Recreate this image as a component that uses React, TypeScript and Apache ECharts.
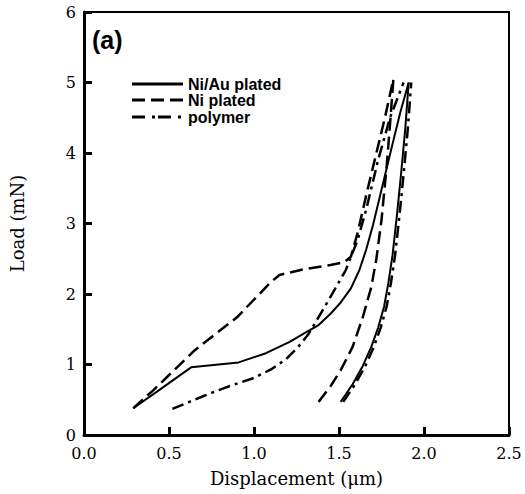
import React, { useEffect, useRef } from "react";
import * as echarts from "echarts";

// Ni/Au plated (solid)
const niAuLoading: [number, number][] = [
  [0.29, 0.38], [0.45, 0.65], [0.63, 0.96], [0.91, 1.03], [1.07, 1.16], [1.21, 1.32],
  [1.3, 1.45], [1.38, 1.56], [1.45, 1.72], [1.51, 1.88], [1.57, 2.08], [1.62, 2.34],
  [1.66, 2.63], [1.7, 2.98], [1.75, 3.48], [1.81, 4.08], [1.86, 4.57], [1.91, 5.0],
];
const niAuUnloading: [number, number][] = [
  [1.51, 0.47], [1.58, 0.72], [1.64, 0.98], [1.69, 1.25], [1.73, 1.52], [1.765, 1.82],
  [1.79, 2.15], [1.815, 2.55], [1.84, 3.1], [1.865, 3.7], [1.89, 4.35], [1.91, 5.0],
];
// Ni plated (dashed)
const niLoading: [number, number][] = [
  [0.29, 0.38], [0.41, 0.64], [0.65, 1.2], [0.9, 1.67], [1.1, 2.17], [1.15, 2.27],
  [1.29, 2.35], [1.45, 2.41], [1.53, 2.45], [1.57, 2.53], [1.61, 2.87], [1.66, 3.4],
  [1.72, 4.0], [1.77, 4.5], [1.82, 5.05],
];
const niUnloading: [number, number][] = [
  [1.38, 0.47], [1.45, 0.69], [1.51, 0.92], [1.58, 1.25], [1.64, 1.67], [1.69, 2.1],
  [1.72, 2.5], [1.75, 3.05], [1.78, 3.8], [1.8, 4.4], [1.82, 5.05],
];
// polymer (dash-dot)
const polyLoading: [number, number][] = [
  [0.52, 0.37], [0.7, 0.55], [0.84, 0.68], [1.0, 0.81], [1.1, 0.93], [1.19, 1.08],
  [1.26, 1.25], [1.32, 1.43], [1.37, 1.63], [1.45, 1.96], [1.54, 2.34], [1.61, 2.77],
  [1.66, 3.2], [1.73, 3.9], [1.8, 4.5], [1.88, 5.0],
];
const polyUnloading: [number, number][] = [
  [1.525, 0.47], [1.595, 0.72], [1.655, 0.98], [1.705, 1.25], [1.745, 1.52], [1.78, 1.82],
  [1.805, 2.15], [1.83, 2.55], [1.855, 3.1], [1.88, 3.7], [1.905, 4.35], [1.925, 5.0],
];

const legendNames = ["Ni/Au plated", "Ni plated", "polymer"];
const xTicks = [0, 0.5, 1.0, 1.5, 2.0, 2.5];

export default function App() {
  const ref = useRef<HTMLDivElement>(null);
  useEffect(() => {
    if (!ref.current) return;
    const chart = echarts.init(ref.current, undefined, { renderer: "svg" });
    const solid = { color: "#000", width: 2, type: "solid" as const };
    const dashed = { color: "#000", width: 2.5, type: [13, 6] as any };
    const dashDot = { color: "#000", width: 2.5, type: [12, 5, 3, 5] as any };
    const mk = (name: string, data: [number, number][], ls: any) => ({
      type: "line",
      name,
      data,
      showSymbol: false,
      smooth: false,
      lineStyle: { ...ls, join: "round" },
      silent: true,
    });
    const labelFont = { color: "#000", fontFamily: "DejaVu Serif", fontSize: 16 };
    const legendY = [84, 100, 117];
    const graphics: any[] = [
      {
        type: "text",
        left: 92,
        top: 27,
        style: { text: "(a)", font: "bold 25px Liberation Sans", fill: "#000" },
      },
    ];
    legendNames.forEach((n, i) => {
      graphics.push({
        type: "line",
        shape: { x1: 132, y1: legendY[i], x2: 183, y2: legendY[i] },
        style: {
          stroke: "#000",
          lineWidth: 3,
          lineDash: i === 0 ? null : i === 1 ? [13, 6] : [13, 7, 3, 3],
        },
      });
      graphics.push({
        type: "text",
        x: 188,
        y: legendY[i],
        style: {
          text: n,
          font: "bold 16px Liberation Sans",
          fill: "#000",
          verticalAlign: "middle",
        },
      });
    });
    chart.setOption({
      animation: false,
      grid: {
        left: 83,
        right: 16,
        top: 12,
        bottom: 59,
        show: true,
        borderColor: "#000",
        borderWidth: 2,
      },
      xAxis: {
        type: "value",
        min: 0,
        max: 2.5,
        interval: 0.5,
        name: "Displacement (μm)",
        nameLocation: "middle",
        nameGap: 34,
        nameTextStyle: { ...labelFont, fontSize: 18 },
        axisLine: { show: true, lineStyle: { color: "#000", width: 3 } },
        axisTick: { show: true, inside: true, length: 8, lineStyle: { color: "#000", width: 3 } },
        axisLabel: {
          ...labelFont,
          margin: 10,
          formatter: (v: number) => (xTicks.includes(v) ? v.toFixed(1) : ""),
        },
        splitLine: { show: false },
      },
      yAxis: {
        type: "value",
        min: 0,
        max: 6,
        interval: 1,
        name: "Load (mN)",
        nameLocation: "middle",
        nameGap: 58,
        nameTextStyle: { ...labelFont, fontSize: 18 },
        axisLine: { show: true, lineStyle: { color: "#000", width: 3 } },
        axisTick: { show: true, inside: true, length: 8, lineStyle: { color: "#000", width: 3 } },
        axisLabel: { ...labelFont, margin: 8 },
        splitLine: { show: false },
      },
      series: [
        mk("Ni/Au plated", niAuLoading, solid),
        mk("Ni/Au plated", niAuUnloading, solid),
        mk("Ni plated", niLoading, dashed),
        mk("Ni plated", niUnloading, dashed),
        mk("polymer", polyLoading, dashDot),
        mk("polymer", polyUnloading, dashDot),
      ],
      graphic: graphics,
    });
    return () => chart.dispose();
  }, []);
  return (
    <div
      ref={ref}
      style={{ position: "absolute", left: 0, top: 0, width: 525, height: 494, background: "#fff" }}
    />
  );
}
